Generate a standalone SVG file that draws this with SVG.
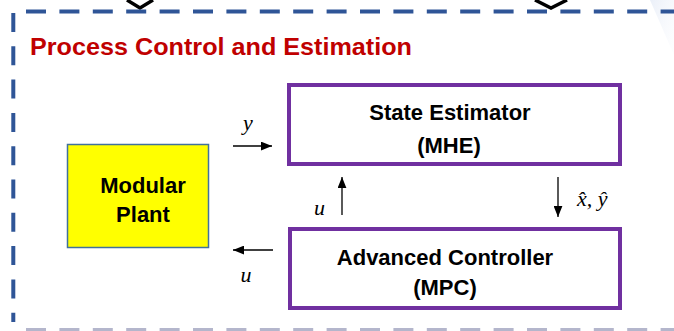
<svg xmlns="http://www.w3.org/2000/svg" width="674" height="331" viewBox="0 0 674 331">
<defs>
<style>
.frame{fill:none;stroke:#2F5597;stroke-width:4}
.box{fill:#FFFFFF;stroke:#7030A0;stroke-width:4}
.plant{fill:#FFFF00;stroke:#41719C;stroke-width:1.5}
.lbl{font-family:"Liberation Sans",Arial,sans-serif;font-weight:bold;font-size:22px;fill:#000;text-anchor:middle}
.math{font-family:"Liberation Serif","DejaVu Serif",serif;font-style:italic;font-size:22px;fill:#000}
.conn{stroke:#000;stroke-width:1.3;fill:none}
</style>
<marker id="ah" viewBox="0 0 10 8" refX="10" refY="4" markerWidth="11" markerHeight="9" markerUnits="userSpaceOnUse" orient="auto">
<path d="M0,0 L10,4 L0,8 z" fill="#000"/>
</marker>
<linearGradient id="glow" x1="0" y1="0" x2="1" y2="1">
<stop offset="0" stop-color="#E6ECF7" stop-opacity="0.8"/>
<stop offset="1" stop-color="#F6F8FC" stop-opacity="0.2"/>
</linearGradient>
</defs>
<rect width="674" height="331" fill="#FFFFFF"/>
<polygon points="650,0 674,0 674,55" fill="url(#glow)"/>
<g id="frame">
<polyline points="127,0 140,8 153,0" fill="none" stroke="#000" stroke-width="3.5"/>
<polyline points="535,0 551,8 567,0" fill="none" stroke="#000" stroke-width="3.5"/>
<line x1="26" y1="11.5" x2="674" y2="11.5" class="frame" stroke-dasharray="20 13.4"/>
<line x1="13.3" y1="13" x2="13.3" y2="322" class="frame" stroke-dasharray="19 14.3"/>
<line x1="26" y1="329.5" x2="674" y2="329.5" fill="none" stroke="#B4B6CC" stroke-width="3" stroke-dasharray="20 13.4"/>
<text x="30" y="55" font-family="Liberation Sans,Arial,sans-serif" font-weight="bold" font-size="24" fill="#C00000" textLength="382" lengthAdjust="spacingAndGlyphs">Process Control and Estimation</text>
</g>
<g id="plant">
<rect class="plant" x="67.5" y="144.5" width="141" height="103"/>
<text class="lbl" x="143" y="193">Modular</text>
<text class="lbl" x="143" y="222">Plant</text>
</g>
<g id="estimator">
<rect class="box" x="289" y="85" width="331" height="79"/>
<text class="lbl" x="450" y="120">State Estimator</text>
<text class="lbl" x="449" y="153">(MHE)</text>
</g>
<g id="controller">
<rect class="box" x="290" y="229" width="330" height="79"/>
<text class="lbl" x="445" y="265">Advanced Controller</text>
<text class="lbl" x="445" y="295">(MPC)</text>
</g>
<g id="connectors">
<path class="conn" d="M233,146 H272" marker-end="url(#ah)"/>
<path class="conn" d="M342,215 V177" marker-end="url(#ah)"/>
<path class="conn" d="M558,177 V217" marker-end="url(#ah)"/>
<path class="conn" d="M273,250 H233" marker-end="url(#ah)"/>
<text class="math" x="248" y="130" text-anchor="middle">y</text>
<text class="math" x="319.5" y="215" text-anchor="middle">u</text>
<text class="math" x="246" y="282" text-anchor="middle">u</text>
<text class="math" x="577" y="206">x̂, ŷ</text>
</g>
</svg>
